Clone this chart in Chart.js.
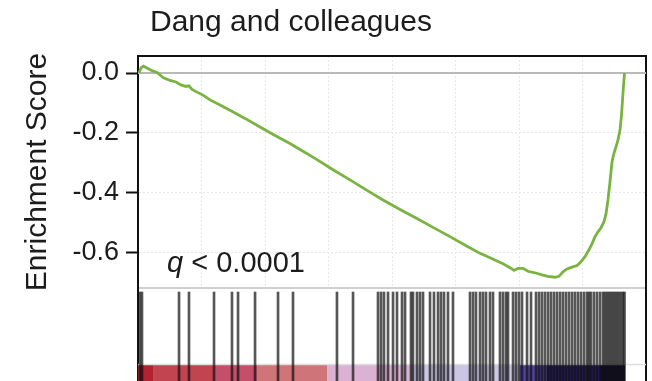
<!DOCTYPE html>
<html>
<head>
<meta charset="utf-8">
<script src="https://cdn.jsdelivr.net/npm/chart.js@4/dist/chart.umd.min.js"></script>
<style>
  html, body { margin: 0; padding: 0; background: #fff; overflow: hidden; }
  #wrap { position: relative; width: 652px; height: 381px; overflow: hidden; background: #fff; }
  #es { position: absolute; left: 0; top: 0; }
  #hits { position: absolute; left: 0; top: 289px; }
  .title { position: absolute; left: 150px; top: 6px; font: 30px/1 "Liberation Sans", Arial, sans-serif; color: #1c1c1c; white-space: nowrap; }
  .qlab { position: absolute; left: 167px; top: 248px; font: 29px/1 "Liberation Sans", Arial, sans-serif; color: #1c1c1c; white-space: nowrap; }
</style>
</head>
<body>
<div id="wrap">
  <canvas id="es" width="652" height="289" style="width:652px;height:289px"></canvas>
  <canvas id="hits" width="652" height="111" style="width:652px;height:111px"></canvas>
  <div class="title">Dang and colleagues</div>
  <div class="qlab"><i>q</i> &lt; 0.0001</div>
</div>
<script>
// Running enrichment score along the ranked gene list
const esRank = [17,50,91,149,232,315,415,530,630,713,796,845,895,978,1077,1193,1359,1525,1774,2022,
  2271,2519,2685,2934,3232,3514,3796,4061,4343,4624,4890,5171,5453,5669,5834,6050,6166,6232,6299,6382,
  6464,6580,6696,6796,6912,6978,7044,7111,7194,7277,7343,7409,7475,7525,7575,7625,7674,7724,7757,7790,
  7823,7856,7890,7923,7956,7989,8014,8031,8047,8064];
const esScore = [0.000,0.017,0.023,0.017,0.008,0.002,-0.015,-0.025,-0.030,-0.040,
  -0.045,-0.043,-0.055,-0.064,-0.074,-0.090,-0.107,-0.125,-0.152,-0.181,
  -0.209,-0.236,-0.256,-0.286,-0.324,-0.358,-0.393,-0.425,-0.457,-0.487,
  -0.517,-0.548,-0.580,-0.604,-0.619,-0.639,-0.652,-0.661,-0.654,-0.654,
  -0.664,-0.669,-0.676,-0.681,-0.684,-0.681,-0.666,-0.656,-0.650,-0.645,
  -0.632,-0.615,-0.592,-0.572,-0.548,-0.532,-0.518,-0.498,-0.472,-0.425,
  -0.365,-0.298,-0.268,-0.247,-0.224,-0.191,-0.140,-0.090,-0.043,0.000];

// Ranks of gene-set members (barcode)
const hitRanks = [33,66,680,845,1260,1558,1658,1940,2321,2569,3298,3564,3978,4028,4077,4144,4227,4293,
  4376,4426,4525,4558,4624,4674,4724,4840,4906,4973,5022,5072,5138,5221,5503,5553,5602,5669,5718,5768,
  5834,5884,6000,6050,6100,6133,6216,6265,6315,6365,6448,6514,6597,6647,6696,6746,6796,6845,6895,6945,
  6995,7044,7094,7144,7194,7243,7293,7343,7393,7442,7475,7508,7558,7608,7658,7707,7740,7774,7807,7840,
  7873,7906,7939,7972,8006,8039,8064];

// Ranked-metric colour band: bin boundaries along the ranking
const bandStops = [0,249,1243,1972,3133,4508,6332,6779,7658,8072];

// Axis values
const yGridValues = [0, -0.1, -0.2, -0.3, -0.4, -0.5, -0.6, -0.7];
const yLabelValues = [0, -0.2, -0.4, -0.6];
const rankMax = 8420;
const rankStep = 1000;
const esMin = -0.72, esMax = 0.057;

// Styling
const bandColors = ['#b3222e','#c24450','#c34f68','#cf7479','#dcb2d4','#cac6e3','#5444a0','#2c2070','#170c46'];
const FONT = '"Liberation Sans", Arial, sans-serif';
Chart.defaults.font.family = FONT;
Chart.defaults.color = '#1c1c1c';
Chart.defaults.animation = false;
Chart.defaults.events = [];

const isLabelled = v => yLabelValues.some(l => Math.abs(l - v) < 1e-9);
const noEdgePadding = s => { s.paddingTop = 0; s.paddingBottom = 0; };

new Chart(document.getElementById('es'), {
  type: 'line',
  data: {
    datasets: [
      {
        data: esRank.map((r, i) => ({ x: r, y: esScore[i] })),
        borderColor: '#79b342', borderWidth: 2.8, pointRadius: 0, tension: 0, order: 0
      },
      {
        data: [{ x: 0, y: 0 }, { x: rankMax, y: 0 }],
        borderColor: '#b9b9b9', borderWidth: 2, pointRadius: 0, order: 1
      }
    ]
  },
  options: {
    responsive: false,
    layout: { padding: { top: 56, left: 0, right: 0, bottom: 0 } },
    plugins: { legend: { display: false }, tooltip: { enabled: false }, title: { display: false } },
    scales: {
      x: {
        type: 'linear', min: 0, max: rankMax, position: 'bottom',
        ticks: { display: false, stepSize: rankStep },
        grid: { color: '#e6e6e6', lineWidth: 1, drawTicks: false },
        border: { color: '#cfcfcf', width: 2, dash: [2, 2] },
        afterFit: s => { s.height = 1; s.paddingLeft = 0; s.paddingRight = 0; }
      },
      xTop: {
        type: 'linear', min: 0, max: rankMax, position: 'top',
        ticks: { display: false }, grid: { display: false, drawTicks: false },
        border: { color: '#111', width: 2 },
        afterFit: s => { s.height = 0; s.paddingLeft = 0; s.paddingRight = 0; }
      },
      y: {
        type: 'linear', min: esMin, max: esMax, position: 'left',
        afterBuildTicks: s => { s.ticks = yGridValues.map(v => ({ value: v })); },
        afterFit: s => { s.width = 138; noEdgePadding(s); },
        ticks: {
          padding: 7, color: '#1c1c1c', font: { size: 27 },
          callback: v => isLabelled(v) ? v.toFixed(1) : ''
        },
        grid: {
          color: c => (c.tick && c.tick.value === 0) ? 'rgba(0,0,0,0)' : '#e6e6e6',
          lineWidth: 1, tickLength: 12, tickWidth: 2,
          tickColor: c => (c.tick && isLabelled(c.tick.value)) ? '#111' : 'rgba(0,0,0,0)'
        },
        border: { color: '#111', width: 2, dash: [2, 2] },
        title: { display: true, text: 'Enrichment Score', color: '#1c1c1c', font: { size: 30 }, padding: { top: 20, bottom: 0 } }
      },
      yRight: {
        type: 'linear', position: 'right', min: esMin, max: esMax,
        ticks: { display: false }, grid: { display: false, drawTicks: false },
        border: { color: '#111', width: 2 },
        afterFit: s => { s.width = 6; noEdgePadding(s); }
      }
    }
  }
});

// Barcode of hits over the ranked-metric band
const hitTop = 0.973;
const bandTop = 0.32;
const bandSets = bandColors.map((col, i) => ({
  type: 'line',
  data: [{ x: bandStops[i], y: bandTop }, { x: bandStops[i + 1], y: bandTop }],
  borderWidth: 0, pointRadius: 0, fill: 'origin', backgroundColor: col, order: 2
}));

new Chart(document.getElementById('hits'), {
  type: 'bar',
  data: {
    datasets: [
      {
        type: 'bar',
        data: hitRanks.map(r => ({ x: r, y: [0, hitTop] })),
        backgroundColor: 'rgba(15,15,15,0.7)', barThickness: 2, grouped: false, order: 0
      },
      {
        type: 'line',
        data: [{ x: 0, y: bandTop }, { x: rankMax, y: bandTop }],
        borderColor: '#dedede', borderWidth: 1.5, pointRadius: 0, order: 1
      },
      ...bandSets
    ]
  },
  options: {
    responsive: false,
    layout: { padding: 0 },
    plugins: { legend: { display: false }, tooltip: { enabled: false } },
    scales: {
      x: { type: 'linear', min: 0, max: rankMax, offset: false, display: false },
      y: {
        type: 'linear', min: 0, max: 1, position: 'left',
        ticks: { display: false }, grid: { display: false, drawTicks: false },
        border: { color: '#111', width: 2 },
        afterFit: s => { s.width = 138; noEdgePadding(s); }
      },
      yRight: {
        type: 'linear', min: 0, max: 1, position: 'right',
        ticks: { display: false }, grid: { display: false, drawTicks: false },
        border: { color: '#111', width: 2 },
        afterFit: s => { s.width = 6; noEdgePadding(s); }
      }
    }
  }
});
</script>
</body>
</html>
